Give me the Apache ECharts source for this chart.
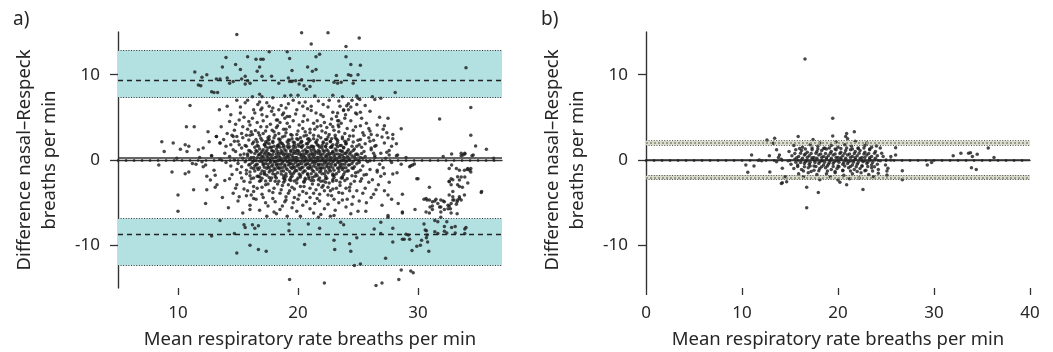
<!DOCTYPE html>
<html><head><meta charset="utf-8">
<script src="https://cdn.jsdelivr.net/npm/echarts@6/dist/echarts.min.js"></script>
<style>html,body{margin:0;padding:0;background:#fff}#c{width:1053px;height:352px}</style>
</head><body><div id="c"></div>
<script>
// ---------- axis ranges / tick labels ----------
const xRangeA = [5, 37];
const xRangeB = [0, 40];
const yRange = [-15, 15];
const xTickRangeA = [10, 30];   // labelled ticks 10, 20, 30
const xTickRangeB = [0, 40];    // labelled ticks 0..40
const yTickRange = [-10, 10];   // labelled ticks -10, 0, 10
const tickStep = 10;
const panelLabels = ['a)', 'b)'];
const xName = 'Mean respiratory rate breaths per min';
const yName = 'Difference nasal\u2013Respeck\nbreaths per min';

// ---------- limits of agreement: [lower CI, estimate, upper CI] ----------
const aUpperLoA = [7.3, 9.3, 12.85];
const aLowerLoA = [-12.35, -8.74, -6.86];
const aBias = 0.27;
const bUpperLoA = [1.73, 2.0, 2.27];
const bLowerLoA = [-2.3, -2.03, -1.76];
const bBias = 0;

// ---------- panel a points [mean, difference] ----------
const aUpper = [[14.9,14.7],[20.3,14.9],[22.5,14.9],[25.1,14.3],[21.1,13.6],[24.0,13.3],[17.6,12.7],[19.1,12.7],[14.0,12.0],[15.8,12.1],[16.5,11.8],[16.9,11.8],[17.1,11.8],[19.3,11.9],[21.5,12.1],[21.8,12.4],[24.0,12.1],[13.7,10.9],[14.8,11.2],[15.2,10.6],[16.8,10.9],[16.6,10.4],[20.8,10.9],[21.2,10.4],[21.5,10.6],[24.2,10.0],[25.2,11.1],[24.4,11.2],[25.0,10.0],[19.5,10.5],[17.0,9.8],[17.8,9.8],[19.2,9.6],[19.5,9.2],[19.8,9.3],[12.4,10.0],[11.4,10.3],[12.0,9.7],[13.2,9.5],[13.5,9.5],[14.1,9.6],[14.3,9.0],[14.6,9.2],[15.6,9.8],[15.8,9.3],[15.3,9.5],[16.0,9.0],[15.6,8.9],[18.4,9.0],[19.3,9.2],[20.3,9.4],[20.1,8.9],[20.5,8.7],[20.7,8.3],[21.0,8.6],[21.3,9.3],[23.2,9.9],[24.4,9.9],[23.0,9.1],[23.3,9.0],[23.6,9.1],[24.6,9.0],[11.7,8.8],[11.9,8.7],[12.8,8.0],[13.0,7.9],[13.3,7.9],[16.8,7.7],[17.0,7.4],[16.2,7.4],[17.9,7.3],[18.9,7.5],[19.4,7.6],[20.0,7.6],[21.4,7.5],[22.9,7.6],[23.7,7.4],[24.9,7.5],[25.15,7.1],[26.2,7.4],[26.4,7.1],[26.9,7.25],[28.1,7.9],[34.0,10.8]];
const aLower = [[10.0,-6.0],[13.5,-7.1],[12.8,-8.9],[14.7,-8.6],[14.9,-10.9],[15.5,-7.6],[15.6,-7.9],[16.0,-10.0],[16.2,-7.6],[16.4,-8.0],[16.7,-7.7],[16.7,-10.5],[17.35,-10.7],[19.25,-7.5],[19.25,-8.3],[20.55,-9.9],[20.86,-7.5],[21.8,-8.0],[21.7,-6.7],[23.0,-9.4],[23.06,-10.5],[23.56,-7.3],[23.8,-7.6],[24.3,-9.8],[24.4,-10.7],[24.9,-9.1],[24.7,-12.35],[25.2,-12.2],[26.35,-8.1],[26.9,-7.3],[26.9,-8.6],[27.3,-11.5],[27.5,-6.7],[27.9,-8.0],[27.9,-9.6],[28.7,-6.2],[19.3,-14.0],[22.2,-14.4],[26.5,-14.7],[27.0,-14.4],[28.6,-12.9],[29.4,-13.0],[29.6,-13.2],[28.4,-14.0],[28.7,-9.3],[28.85,-9.3],[29.0,-8.7],[29.2,-8.8],[29.3,-9.3],[29.5,-10.6],[29.9,-10.1],[30.2,-10.0],[30.3,-9.4],[30.5,-7.5],[30.6,-8.2],[30.7,-8.3],[30.75,-8.8],[30.9,-10.7],[30.8,-9.6],[30.7,-9.1],[31.4,-7.1],[31.65,-7.25],[31.4,-8.4],[31.65,-8.6],[31.9,-6.7],[32.2,-7.8],[32.2,-8.35],[32.4,-7.25],[32.4,-8.55],[32.8,-7.9],[33.1,-8.55],[33.1,-7.8],[33.9,-8.1],[33.9,-8.6],[34.0,-7.9]];
const aTail = [[34.4,6.15],[31.8,4.8],[34.4,2.9],[34.8,1.65],[35.7,1.25],[33.9,0.7],[33.75,0.6],[33.6,0.5],[34.5,0.5],[32.8,0.7],[32.1,0.4],[36.3,0.2],[27.6,0.6],[28.3,0.6],[27.5,4.9],[27.2,4.0],[28.6,3.65],[27.9,3.0],[27.9,2.5],[27.5,2.6],[28.2,1.9],[25.3,4.9],[25.2,4.0],[25.9,3.7],[26.1,3.0],[26.4,1.6],[26.1,1.4],[24.9,5.4],[24.8,5.5],[24.06,6.35],[24.2,5.9],[23.96,5.3],[23.8,5.9],[23.3,5.5],[23.4,4.6],[23.35,4.1],[23.4,3.9],[25.0,7.25],[24.5,7.0],[24.9,6.5],[32.6,-1.0],[33.2,-1.0],[33.45,-1.2],[33.87,-1.2],[34.1,-1.1],[34.4,-1.0],[29.3,-0.8],[29.4,-0.67],[29.7,-0.47],[30.0,-2.2],[27.9,-1.65],[27.2,-1.6],[26.6,-1.4],[25.5,-1.76],[25.0,-1.4],[32.76,-2.2],[33.3,-1.96],[33.6,-2.0],[35.3,-3.7],[29.9,-2.2],[30.95,-3.2],[29.55,-0.6],[28.25,-1.5],[28.7,-4.0],[28.35,-5.1],[30.5,-4.6],[30.75,-4.7],[31.2,-5.4],[31.4,-4.8],[31.9,-4.7],[32.1,-4.8],[32.6,-5.4],[32.9,-4.7],[33.3,-4.7],[33.2,-5.2],[33.45,-4.3],[32.7,-5.7],[32.76,-6.2],[33.3,-2.9],[33.45,-2.35],[33.7,-3.2],[33.9,-2.0],[34.15,-1.0],[34.3,-1.2],[34.4,-1.4],[32.6,-2.5],[32.8,-0.6],[33.6,0.8],[33.9,0.8],[34.6,0.6],[31.8,-5.5],[31.0,-5.5],[29.75,-5.8],[28.7,-6.1],[27.5,-6.5],[30.67,-4.5],[30.95,-4.7],[31.2,-4.9],[31.5,-4.6],[31.65,-5.1],[31.9,-5.5],[32.2,-4.9],[32.5,-5.3],[32.6,-4.1],[32.76,-5.1],[32.9,-4.3],[32.9,-3.7],[33.0,-4.7],[33.26,-4.9],[33.45,-4.5],[33.6,-4.7],[33.45,-3.1],[33.87,-4.1],[34.15,-2.7],[35.27,-3.8],[32.76,-2.9],[32.6,-2.55],[32.9,-2.3],[30.67,-6.1],[30.95,-6.2],[31.2,-5.8],[31.9,-6.1],[32.2,-5.8],[32.5,-5.7],[33.26,-6.3],[26.4,0.3],[26.8,-0.5],[27.3,0.2],[27.8,-0.3],[28.2,0.5],[26.6,-1.2],[27.1,-0.9],[28.6,-0.5],[29.0,0.3],[26.9,0.8],[27.6,1.1]];
const aLeft = [[8.4,-0.6],[8.65,2.15],[8.85,1.0],[9.6,2.0],[9.5,-1.4],[10.0,-4.1],[10.2,1.25],[10.6,1.8],[10.75,1.0],[10.9,1.6],[10.6,-1.6],[10.9,-1.4],[10.7,3.9],[11.35,3.9],[11.0,6.4],[11.3,-3.5],[11.2,-0.4],[11.5,-0.5],[11.7,1.2],[12.0,-0.2],[12.1,-0.8],[12.3,-0.6],[12.5,3.3],[12.6,2.15],[12.1,1.4],[13.0,-1.2],[13.5,2.0],[13.2,2.75],[13.45,5.9],[12.8,0.5],[11.8,0.3],[9.9,0.2],[12.4,-1.9]];
const aSpreadUp = [[14.1,6.3],[14.4,5.3],[14.8,4.2],[13.6,3.9],[14.1,3.1],[14.6,2.75],[13.8,2.4],[14.4,1.8],[14.9,7.0],[15.8,7.0],[15.6,6.7],[16.65,6.5],[17.4,6.7],[17.6,6.3],[16.9,5.9],[16.3,5.9],[16.2,4.9],[15.9,4.5],[15.1,4.7],[17.0,5.3],[17.4,5.1],[18.0,5.3],[18.3,4.7],[18.8,5.5],[19.1,5.1],[18.3,4.0],[17.85,3.5],[17.4,3.9],[16.9,3.9],[16.45,3.45],[15.8,3.6],[15.3,3.1],[14.9,2.75],[15.9,2.35],[16.9,2.55],[17.6,2.75],[18.4,3.1],[18.8,3.6],[19.1,4.3],[19.6,7.0],[20.1,6.7],[20.4,6.3],[19.9,5.9],[18.7,5.3],[19.3,5.1],[18.2,4.7],[20.4,4.5],[21.5,5.5],[22.1,5.1],[21.3,4.3],[21.9,4.0],[22.7,4.2],[23.3,4.6],[23.8,5.8],[24.4,6.2],[24.2,6.6],[23.4,6.9],[22.6,7.0],[21.7,6.9],[20.8,6.0],[21.0,3.6],[20.0,3.4],[19.4,3.0],[22.3,3.2],[23.0,3.5],[23.9,3.1],[24.6,3.5],[25.4,3.2],[25.9,2.6],[26.6,2.9],[27.1,3.6],[26.8,5.0],[26.0,5.7],[25.6,6.4],[22.9,5.6],[21.1,6.3],[19.0,6.1],[17.9,6.1],[15.2,5.5],
[14.3,4.5],[14.7,3.5],[15.0,2.2],[15.4,3.9],[15.5,5.0],[15.7,2.9],[16.0,4.1],[16.2,3.0],[16.4,5.5],[16.6,4.4],[16.7,3.2],[17.0,6.1],[17.1,4.6],[17.3,3.4],[17.5,2.3],[17.7,4.2],[17.8,5.7],[18.0,2.6],[18.2,3.8],[18.4,5.9],[18.5,4.4],[18.7,2.7],[18.9,4.9],[19.0,3.2],[19.2,6.6],[19.3,3.9],[19.5,2.5],[19.6,4.6],[19.8,5.4],[19.9,3.0],[20.1,4.1],[20.2,2.6],[20.4,3.7],[20.5,5.2],[20.7,2.9],[20.8,4.7],[21.0,3.2],[21.1,5.8],[21.3,2.5],[21.4,3.6],[21.6,4.6],[21.7,2.8],[21.9,5.3],[22.0,3.4],[22.2,4.4],[22.3,2.4],[22.5,6.2],[22.6,3.0],[22.8,4.8],[22.9,3.9],[23.1,2.6],[23.2,5.1],[23.4,3.3],[23.6,4.3],[23.7,2.7],[23.9,4.9],[24.1,3.7],[24.2,2.4],[24.4,4.6],[24.6,2.8],[24.8,3.9],[25.0,2.3],[25.2,5.6],[25.5,2.9],[25.7,4.3],[26.0,3.4],[26.3,2.3],[26.6,4.1],[27.0,2.7],[27.4,3.2],[16.8,6.8],[18.6,6.4],[20.6,6.8],[22.1,6.5],[23.5,6.3],[15.2,6.2],[14.5,2.9]];
const aSpreadMid = [[13.2,2.75],[13.5,2.0],[14.0,1.6],[14.7,2.2],[15.1,1.8],[15.4,2.6],[15.7,1.6],[16.0,2.9],[16.3,2.1],[16.6,1.7],[16.8,2.9],[17.0,2.3],[17.2,1.8],[17.5,2.6],[17.7,1.5],[17.9,2.2],[18.1,2.9],[18.3,1.7],[18.5,2.4],[18.7,1.9],[18.9,2.8],[19.1,1.6],[19.3,2.3],[19.5,2.9],[19.7,1.8],[19.9,2.5],[20.1,1.6],[20.3,2.2],[20.5,2.8],[20.7,1.9],[20.9,2.5],[21.1,1.6],[21.3,2.9],[21.5,2.1],[21.7,1.7],[21.9,2.6],[22.1,2.0],[22.3,1.6],[22.5,2.7],[22.7,2.2],[22.9,1.8],[23.1,2.9],[23.3,2.3],[23.5,1.7],[23.7,2.5],[24.0,1.9],[24.3,2.8],[24.6,2.1],[24.9,1.6],[25.2,2.4],[25.6,1.9],[26.0,2.2],[26.5,1.7],[27.2,2.0],[27.8,1.6],[18.0,3.3],[19.0,3.6],[20.6,3.3],[21.6,3.9],[22.4,3.8],[16.1,3.3],[17.1,3.1],[20.2,2.0],[21.0,2.3],[19.6,2.1],[18.6,2.0],[22.8,2.5],[23.9,2.2],[17.4,2.0],[16.5,2.4]];
const aCore = [[14.6,1.2],[15.3,1.4],[15.9,1.1],[16.4,1.5],[16.8,1.3],[17.1,1.2],[17.5,1.4],[17.8,1.1],[18.2,1.3],[18.5,1.5],[18.9,1.2],[19.2,1.4],[19.6,1.3],[19.9,1.1],[20.3,1.5],[20.6,1.2],[21.0,1.4],[21.3,1.3],[21.7,1.1],[22.0,1.4],[22.4,1.2],[22.7,1.5],[23.1,1.3],[23.5,1.1],[23.8,1.4],[24.2,1.2],[24.7,1.3],[25.3,1.5],[26.1,1.2],
[13.9,0.8],[14.8,1.0],[15.5,0.7],[16.1,0.9],[16.6,1.0],[16.9,0.8],[17.3,0.9],[17.6,0.7],[18.0,1.0],[18.4,0.8],[18.7,0.9],[19.1,0.7],[19.4,1.0],[19.8,0.8],[20.1,0.9],[20.5,0.7],[20.8,1.0],[21.2,0.8],[21.5,0.9],[21.9,0.7],[22.2,1.0],[22.6,0.8],[22.9,0.9],[23.3,0.7],[23.7,1.0],[24.0,0.8],[24.4,0.9],[24.9,0.7],[25.5,1.0],[26.3,0.8],[27.4,0.9],
[12.8,0.5],[14.3,0.4],[15.2,0.6],[15.8,0.5],[16.3,0.3],[16.7,0.6],[17.0,0.4],[17.4,0.5],[17.7,0.6],[18.1,0.3],[18.4,0.5],[18.8,0.6],[19.1,0.4],[19.5,0.5],[19.8,0.3],[20.2,0.6],[20.5,0.4],[20.9,0.5],[21.2,0.6],[21.6,0.3],[21.9,0.5],[22.3,0.4],[22.6,0.6],[23.0,0.5],[23.4,0.3],[23.7,0.6],[24.1,0.4],[24.5,0.5],[25.0,0.6],[25.6,0.4],[26.4,0.5],
[13.5,0.1],[14.7,0.0],[15.4,0.2],[16.0,0.1],[16.5,-0.1],[16.9,0.2],[17.2,0.0],[17.6,0.1],[17.9,0.2],[18.3,-0.1],[18.6,0.1],[19.0,0.2],[19.3,0.0],[19.7,0.1],[20.0,-0.1],[20.4,0.2],[20.7,0.0],[21.1,0.1],[21.4,0.2],[21.8,-0.1],[22.1,0.1],[22.5,0.0],[22.8,0.2],[23.2,0.1],[23.6,-0.1],[23.9,0.2],[24.3,0.0],[24.8,0.1],[25.4,0.2],[26.0,-0.1],
[14.0,-0.3],[15.0,-0.4],[15.6,-0.2],[16.2,-0.3],[16.6,-0.5],[17.0,-0.2],[17.3,-0.4],[17.7,-0.3],[18.0,-0.2],[18.4,-0.5],[18.7,-0.3],[19.1,-0.2],[19.4,-0.4],[19.8,-0.3],[20.1,-0.5],[20.5,-0.2],[20.8,-0.4],[21.2,-0.3],[21.5,-0.2],[21.9,-0.5],[22.2,-0.3],[22.6,-0.4],[22.9,-0.2],[23.3,-0.3],[23.7,-0.5],[24.0,-0.2],[24.5,-0.4],[25.1,-0.3],[25.8,-0.2],
[14.4,-0.7],[15.3,-0.8],[15.9,-0.6],[16.4,-0.7],[16.8,-0.9],[17.1,-0.6],[17.5,-0.8],[17.8,-0.7],[18.2,-0.6],[18.5,-0.9],[18.9,-0.7],[19.2,-0.6],[19.6,-0.8],[19.9,-0.7],[20.3,-0.9],[20.6,-0.6],[21.0,-0.8],[21.3,-0.7],[21.7,-0.6],[22.0,-0.9],[22.4,-0.7],[22.7,-0.8],[23.1,-0.6],[23.5,-0.7],[23.8,-0.9],[24.2,-0.6],[24.7,-0.8],[25.4,-0.7],
[14.9,-1.1],[15.7,-1.2],[16.3,-1.0],[16.7,-1.1],[17.0,-1.3],[17.4,-1.0],[17.7,-1.2],[18.1,-1.1],[18.4,-1.0],[18.8,-1.3],[19.1,-1.1],[19.5,-1.0],[19.8,-1.2],[20.2,-1.1],[20.5,-1.3],[20.9,-1.0],[21.2,-1.2],[21.6,-1.1],[21.9,-1.0],[22.3,-1.3],[22.6,-1.1],[23.0,-1.2],[23.4,-1.0],[23.7,-1.1],[24.1,-1.3],[24.6,-1.0],[25.2,-1.2],[26.0,-1.1],
[15.2,-1.5],[16.0,-1.4],[16.9,-1.6],[17.6,-1.4],[18.3,-1.5],[19.0,-1.6],[19.7,-1.4],[20.4,-1.5],[21.1,-1.6],[21.8,-1.4],[22.5,-1.5],[23.2,-1.6],[23.9,-1.4],[24.8,-1.5]];
const aCoreFill = [[15.6,1.7],[16.2,1.9],[16.7,1.6],[17.2,1.8],[17.6,1.9],[18.0,1.6],[18.4,1.8],[18.8,1.7],[19.2,1.9],[19.6,1.6],[20.0,1.8],[20.4,1.7],[20.8,1.9],[21.2,1.6],[21.6,1.8],[22.0,1.7],[22.4,1.9],[22.8,1.6],[23.2,1.8],[23.6,1.7],[24.0,1.9],[24.5,1.6],[25.1,1.8],
[16.0,1.05],[16.5,1.1],[17.0,1.0],[17.4,1.1],[17.9,1.05],[18.3,1.0],[18.6,1.1],[19.0,1.05],[19.4,1.1],[19.7,1.0],[20.0,1.1],[20.4,1.05],[20.7,1.0],[21.1,1.1],[21.4,1.05],[21.8,1.0],[22.1,1.1],[22.5,1.05],[22.9,1.0],[23.2,1.1],[23.6,1.05],[24.1,1.0],[24.6,1.1],
[15.8,0.7],[16.4,0.75],[16.8,0.65],[17.2,0.7],[17.5,0.75],[17.9,0.65],[18.2,0.7],[18.6,0.75],[18.9,0.7],[19.3,0.65],[19.6,0.75],[20.0,0.7],[20.3,0.65],[20.7,0.75],[21.0,0.7],[21.4,0.65],[21.7,0.75],[22.1,0.7],[22.4,0.65],[22.8,0.75],[23.1,0.7],[23.5,0.65],[23.9,0.75],[24.3,0.7],[24.8,0.65],[25.3,0.75],
[16.1,0.3],[16.6,0.25],[17.1,0.35],[17.5,0.3],[17.8,0.25],[18.2,0.35],[18.5,0.3],[18.9,0.25],[19.2,0.35],[19.6,0.3],[19.9,0.25],[20.3,0.35],[20.6,0.3],[21.0,0.25],[21.3,0.35],[21.7,0.3],[22.0,0.25],[22.4,0.35],[22.7,0.3],[23.1,0.25],[23.5,0.35],[23.8,0.3],[24.2,0.25],[24.7,0.35],[25.2,0.3],
[16.3,-0.1],[16.8,-0.15],[17.4,-0.05],[17.7,-0.1],[18.1,-0.15],[18.5,-0.05],[18.8,-0.1],[19.2,-0.15],[19.5,-0.05],[19.9,-0.1],[20.2,-0.15],[20.6,-0.05],[20.9,-0.1],[21.3,-0.15],[21.6,-0.05],[22.0,-0.1],[22.3,-0.15],[22.7,-0.05],[23.0,-0.1],[23.4,-0.15],[23.8,-0.05],[24.1,-0.1],[24.6,-0.15],[25.1,-0.05],
[16.0,-0.5],[16.5,-0.55],[17.1,-0.45],[17.5,-0.5],[17.9,-0.55],[18.2,-0.45],[18.6,-0.5],[18.9,-0.55],[19.3,-0.45],[19.6,-0.5],[20.0,-0.55],[20.3,-0.45],[20.7,-0.5],[21.0,-0.55],[21.4,-0.45],[21.7,-0.5],[22.1,-0.55],[22.4,-0.45],[22.8,-0.5],[23.1,-0.55],[23.5,-0.45],[23.9,-0.5],[24.3,-0.55],[24.9,-0.45],
[16.1,-0.9],[16.6,-0.95],[17.2,-0.85],[17.6,-0.9],[18.0,-0.95],[18.3,-0.85],[18.7,-0.9],[19.0,-0.95],[19.4,-0.85],[19.7,-0.9],[20.1,-0.95],[20.4,-0.85],[20.8,-0.9],[21.1,-0.95],[21.5,-0.85],[21.8,-0.9],[22.2,-0.95],[22.5,-0.85],[22.9,-0.9],[23.3,-0.95],[23.6,-0.85],[24.0,-0.9],[24.5,-0.95],
[16.4,-1.3],[17.2,-1.35],[17.9,-1.25],[18.6,-1.3],[19.3,-1.35],[19.9,-1.25],[20.6,-1.3],[21.3,-1.35],[21.9,-1.25],[22.7,-1.3],[23.4,-1.35],[24.2,-1.25],
[16.0,-1.85],[16.7,-1.9],[17.4,-1.8],[18.1,-1.95],[18.8,-1.85],[19.5,-1.9],[20.2,-1.8],[20.9,-1.95],[21.6,-1.85],[22.3,-1.9],[23.0,-1.8],[23.7,-1.95],[24.5,-1.85]];
const aCoreEdge = [[17.3,1.55],[17.8,1.5],[18.3,1.55],[18.8,1.5],[19.3,1.55],[19.8,1.5],[20.3,1.55],[20.8,1.5],[21.3,1.55],[21.8,1.5],[22.3,1.55],[22.8,1.5],[23.3,1.55],[23.8,1.5],
[16.6,2.1],[17.3,2.15],[17.9,2.05],[18.5,2.1],[19.1,2.15],[19.7,2.05],[20.3,2.1],[20.9,2.15],[21.5,2.05],[22.1,2.1],[22.7,2.15],[23.3,2.05],[24.0,2.1],
[17.6,2.4],[18.4,2.45],[19.2,2.35],[20.0,2.4],[20.8,2.45],[21.6,2.35],[22.4,2.4],[23.2,2.45],
[16.3,-2.1],[17.0,-2.15],[17.6,-2.05],[18.2,-2.1],[18.8,-2.15],[19.4,-2.05],[20.0,-2.1],[20.6,-2.15],[21.2,-2.05],[21.8,-2.1],[22.4,-2.15],[23.0,-2.05],[23.7,-2.1],
[17.3,-2.45],[18.1,-2.5],[18.9,-2.4],[19.7,-2.45],[20.5,-2.5],[21.3,-2.4],[22.1,-2.45],[22.9,-2.5],
[17.2,-1.65],[17.9,-1.6],[18.6,-1.65],[19.4,-1.6],[20.1,-1.65],[20.8,-1.6],[21.5,-1.65],[22.2,-1.6],[22.9,-1.65]];
const aSpreadLow = [[13.1,-1.8],[13.9,-2.4],[14.5,-1.7],[14.9,-2.9],[15.3,-2.1],[15.7,-1.6],[16.0,-2.6],[16.3,-3.1],[16.6,-1.9],[16.9,-2.4],[17.2,-1.6],[17.5,-2.8],[17.8,-2.1],[18.1,-1.7],[18.4,-2.5],[18.7,-3.0],[19.0,-1.9],[19.3,-2.3],[19.6,-1.6],[19.9,-2.7],[20.2,-2.0],[20.5,-3.1],[20.8,-1.7],[21.1,-2.4],[21.4,-1.9],[21.7,-2.9],[22.0,-1.6],[22.3,-2.2],[22.6,-2.7],[22.9,-1.8],[23.2,-2.4],[23.5,-3.0],[23.8,-1.7],[24.1,-2.2],[24.4,-2.8],[24.8,-1.9],[25.2,-2.5],[25.7,-1.7],[26.2,-2.3],[26.9,-1.9],[27.6,-2.6],[17.0,-3.2],[18.0,-3.3],[19.5,-3.2],[21.0,-3.3],[22.5,-3.2],[24.0,-3.3],[15.5,-3.4],[16.8,-2.0],[18.9,-2.2],[20.6,-2.3],[21.9,-2.5],[23.6,-2.1],[19.2,-2.9],[22.1,-3.0],
[12.4,-3.5],[13.1,-3.2],[13.25,-2.9],[12.7,-2.35],[12.3,-5.1],[13.7,-4.4],[14.2,-5.6],[14.6,-3.9],[15.0,-4.8],[15.4,-6.2],[15.7,-4.2],[16.0,-5.3],[16.3,-3.7],[16.5,-4.6],[16.8,-5.9],[17.0,-4.0],[17.3,-5.0],[17.6,-3.6],[17.9,-4.5],[18.2,-6.3],[18.5,-3.9],[18.7,-5.4],[19.0,-4.3],[19.3,-3.6],[19.6,-5.0],[19.9,-6.0],[20.1,-4.1],[20.4,-3.7],[20.7,-4.9],[21.0,-5.7],[21.3,-3.9],[21.6,-4.5],[21.9,-6.4],[22.2,-3.6],[22.5,-5.2],[22.8,-4.2],[23.1,-5.9],[23.4,-3.8],[23.7,-4.7],[24.0,-5.5],[24.3,-3.6],[24.6,-4.3],[25.0,-6.0],[25.4,-3.9],[25.7,-5.0],[26.1,-4.4],[26.5,-3.5],[27.0,-5.3],[27.5,-4.1],[25.65,-6.0],[17.4,-6.6],[20.2,-6.6],[23.0,-6.5],[18.9,-4.9],[21.8,-4.0],[16.1,-4.1],[19.7,-4.4],[22.9,-3.4],
[14.3,-2.2],[14.8,-3.3],[15.1,-4.3],[15.5,-2.5],[15.8,-3.6],[16.1,-2.2],[16.3,-4.5],[16.6,-3.3],[16.8,-2.5],[17.1,-4.4],[17.3,-2.9],[17.5,-5.4],[17.7,-2.4],[17.9,-3.8],[18.1,-4.9],[18.3,-2.8],[18.5,-5.8],[18.6,-3.5],[18.8,-2.6],[19.0,-4.7],[19.2,-3.9],[19.4,-2.4],[19.5,-5.6],[19.7,-3.4],[19.9,-2.3],[20.0,-4.6],[20.2,-3.1],[20.4,-5.3],[20.5,-2.6],[20.7,-3.9],[20.9,-2.2],[21.0,-4.4],[21.2,-2.8],[21.4,-5.1],[21.5,-3.5],[21.7,-2.3],[21.8,-4.8],[22.0,-3.2],[22.2,-5.7],[22.3,-2.6],[22.5,-4.1],[22.7,-3.6],[22.9,-2.3],[23.0,-4.6],[23.2,-3.3],[23.4,-5.0],[23.5,-2.6],[23.7,-3.9],[23.9,-2.4],[24.1,-4.6],[24.3,-3.2],[24.5,-5.2],[24.7,-2.5],[24.9,-3.6],[25.1,-4.8],[25.3,-2.2],[25.6,-3.3],[25.9,-2.6],[26.3,-4.0],[26.7,-2.9],[27.2,-3.6],[27.8,-4.6],[16.0,-5.8],[18.0,-6.1],[21.3,-6.2],[24.4,-6.3],[19.1,-6.6],[22.7,-6.6]];

// ---------- panel b points ----------
const bOutliers = [[16.56,11.85],[19.45,4.9],[16.74,-5.6],[17.95,-3.8],[16.74,-3.2],[22.6,-3.45],[20.9,-2.9],[21.7,3.3],[20.9,3.1],[20.8,2.75],[19.45,2.8],[21.0,2.5],[15.85,2.75],[13.4,2.55],[12.6,2.35],[17.4,2.4]];
const bSides = [[32.0,0.5],[32.8,0.8],[33.6,0.8],[33.8,0.86],[34.0,0.4],[34.5,0.67],[35.65,1.4],[36.25,0.3],[33.9,-0.9],[34.4,-1.1],[29.3,-0.6],[29.75,-0.3],[26.7,-1.25],[26.7,-2.3],[26.0,1.45],[10.4,-0.6],[10.6,-1.45],[11.0,0.6],[11.25,-0.7],[11.8,0],[12.05,-0.1],[12.9,-1.4],[12.85,0.5],[13.26,1.95],[13.6,1.2],[13.9,0.6],[14.1,0.08],[14.2,-0.98],[14.5,-1.96],[14.2,-2.67],[14.65,-2.55],[13.6,-0.2],[13.8,0.3],[14.1,-2.75],[25.2,-0.98],[25.1,-1.3],[24.95,-0.6],[25.5,0],[25.5,0.4],[26.0,0.6],[25.1,-1.76],[25.0,0],[24.7,0.4],[24.55,0.8],[24.4,1.4],[24.0,1.65],[23.7,-1.96],[24.2,-1.56],[20.0,-2.35]];
const bCore = [[15.4,1.7],[16.3,1.5],[17.1,1.8],[17.9,1.6],[18.6,1.4],[19.3,1.7],[20.0,1.5],[20.7,1.8],[21.4,1.6],[22.1,1.4],[22.8,1.7],[23.5,1.5],[19.8,2.1],[18.1,2.0],[21.8,2.2],[23.0,2.0],
[14.9,1.0],[15.6,1.2],[16.2,1.1],[16.8,0.9],[17.3,1.2],[17.8,1.0],[18.3,1.1],[18.8,1.3],[19.3,1.0],[19.8,1.2],[20.3,0.9],[20.8,1.1],[21.3,1.2],[21.8,1.0],[22.3,1.1],[22.8,0.9],[23.3,1.2],[23.9,1.0],
[15.2,0.5],[15.9,0.4],[16.5,0.6],[17.0,0.5],[17.5,0.3],[18.0,0.6],[18.5,0.4],[19.0,0.5],[19.5,0.6],[20.0,0.3],[20.5,0.5],[21.0,0.6],[21.5,0.4],[22.0,0.5],[22.5,0.3],[23.0,0.6],[23.5,0.4],[24.1,0.5],
[14.8,-0.1],[15.5,0.1],[16.2,0.0],[16.8,-0.1],[17.3,0.1],[17.8,0.0],[18.3,-0.1],[18.8,0.1],[19.3,0.0],[19.8,-0.1],[20.3,0.1],[20.8,0.0],[21.3,-0.1],[21.8,0.1],[22.3,0.0],[22.8,-0.1],[23.3,0.1],[23.8,0.0],[24.4,-0.1],
[15.1,-0.5],[15.8,-0.6],[16.5,-0.4],[17.0,-0.5],[17.5,-0.7],[18.0,-0.4],[18.5,-0.6],[19.0,-0.5],[19.5,-0.4],[20.0,-0.7],[20.5,-0.5],[21.0,-0.4],[21.5,-0.6],[22.0,-0.5],[22.5,-0.7],[23.0,-0.4],[23.5,-0.6],[24.1,-0.5],
[15.4,-1.0],[16.2,-1.1],[16.9,-0.9],[17.5,-1.2],[18.1,-1.0],[18.7,-0.9],[19.3,-1.1],[19.9,-1.0],[20.5,-1.2],[21.1,-0.9],[21.7,-1.1],[22.3,-1.0],[22.9,-1.2],[23.5,-0.9],[24.2,-1.1],
[15.9,-1.6],[16.9,-1.5],[17.8,-1.7],[18.8,-1.6],[19.7,-1.5],[20.6,-1.8],[21.5,-1.6],[22.4,-1.5],[23.2,-1.7],[19.2,-2.0],[21.2,-2.2],[18.1,-2.3],[22.2,-2.1],[16.4,-2.0],[20.2,-2.6]];
const bCoreFill = [[16.0,1.35],[16.6,1.3],[17.3,1.4],[17.9,1.3],[18.5,1.35],[19.1,1.4],[19.7,1.3],[20.3,1.35],[20.9,1.4],[21.5,1.3],[22.1,1.35],[22.7,1.4],[23.3,1.3],
[15.5,0.75],[16.1,0.8],[16.6,0.7],[17.2,0.75],[17.7,0.8],[18.2,0.7],[18.7,0.75],[19.2,0.8],[19.7,0.7],[20.2,0.75],[20.7,0.8],[21.2,0.7],[21.7,0.75],[22.2,0.8],[22.7,0.7],[23.2,0.75],[23.8,0.8],
[15.7,0.25],[16.3,0.2],[16.8,0.3],[17.3,0.25],[17.8,0.2],[18.3,0.3],[18.8,0.25],[19.3,0.2],[19.8,0.3],[20.3,0.25],[20.8,0.2],[21.3,0.3],[21.8,0.25],[22.3,0.2],[22.8,0.3],[23.3,0.25],[23.9,0.2],
[15.6,-0.25],[16.1,-0.3],[16.6,-0.2],[17.1,-0.25],[17.6,-0.3],[18.1,-0.2],[18.6,-0.25],[19.1,-0.3],[19.6,-0.2],[20.1,-0.25],[20.6,-0.3],[21.1,-0.2],[21.6,-0.25],[22.1,-0.3],[22.6,-0.2],[23.1,-0.25],[23.6,-0.3],
[15.8,-0.75],[16.5,-0.8],[17.1,-0.7],[17.7,-0.75],[18.3,-0.8],[18.9,-0.7],[19.5,-0.75],[20.1,-0.8],[20.7,-0.7],[21.3,-0.75],[21.9,-0.8],[22.5,-0.7],[23.1,-0.75],[23.8,-0.8],
[16.4,-1.3],[17.2,-1.35],[18.0,-1.25],[18.9,-1.3],[19.7,-1.35],[20.5,-1.25],[21.3,-1.3],[22.0,-1.35],[22.8,-1.25],[23.6,-1.3]];

const FONT = 'Noto Sans';
const INK = '#1c1a1b';
const AX = '#333333';
const TXT = '#262626';
const nameStyle = { fontFamily: FONT, fontSize: 18.5, color: TXT };
const labelStyle = { fontFamily: FONT, fontSize: 17, color: TXT };

// main frames: axis lines + names; thin tick strips: ticks drawn as split lines + labels
const frame = { top: 32, height: 256 };
const gA = { left: 118, width: 384 };
const gB = { left: 646, width: 384 };
const tickLenY = 8, tickLenX = 7;
const pxPerA = gA.width / (xRangeA[1] - xRangeA[0]);
const pxPerY = frame.height / (yRange[1] - yRange[0]);
const tickTop = frame.top + (yRange[1] - yTickRange[1]) * pxPerY;
const tickH = (yTickRange[1] - yTickRange[0]) * pxPerY;
const tickLeftA = gA.left + (xTickRangeA[0] - xRangeA[0]) * pxPerA;
const tickWA = (xTickRangeA[1] - xTickRangeA[0]) * pxPerA;
const tickLine = { show: true, lineStyle: { color: AX, width: 1.3, type: 'solid' } };

function mainX(gi, r) {
  return {
    type: 'value', gridIndex: gi, min: r[0], max: r[1],
    name: xName, nameLocation: 'middle', nameGap: 42, nameTextStyle: nameStyle,
    axisLine: { show: true, lineStyle: { color: AX, width: 1.4 } },
    axisTick: { show: false }, axisLabel: { show: false }, splitLine: { show: false }
  };
}
function mainY(gi) {
  return {
    type: 'value', gridIndex: gi, min: yRange[0], max: yRange[1],
    name: yName, nameLocation: 'middle', nameGap: 56,
    nameTextStyle: Object.assign({ lineHeight: 25 }, nameStyle),
    axisLine: { show: true, lineStyle: { color: AX, width: 1.4 } },
    axisTick: { show: false }, axisLabel: { show: false }, splitLine: { show: false }
  };
}
function tickX(gi, r) {
  return {
    type: 'value', gridIndex: gi, min: r[0], max: r[1], interval: tickStep,
    axisLine: { show: false }, axisTick: { show: false },
    axisLabel: Object.assign({ margin: 10 }, labelStyle),
    splitLine: tickLine
  };
}
function tickY(gi) {
  return {
    type: 'value', gridIndex: gi, min: yTickRange[0], max: yTickRange[1], interval: tickStep,
    axisLine: { show: false }, axisTick: { show: false },
    axisLabel: Object.assign({ margin: 10 }, labelStyle),
    splitLine: tickLine
  };
}
function hidden(gi) { return { type: 'value', gridIndex: gi, min: 0, max: 1, show: false }; }
function grid(left, top, width, height) {
  return { left: left, top: top, width: width, height: height, containLabel: false, outerBoundsMode: 'none' };
}
function hLine(y, type, width, color, cap) {
  return { yAxis: y, lineStyle: { type: type, width: width, color: color, cap: cap || 'butt' } };
}
function refSeries(xi, upper, lower, bias, fill, edge, mid) {
  return {
    type: 'scatter', xAxisIndex: xi, yAxisIndex: xi, data: [], z: 1, silent: true,
    markArea: { silent: true, itemStyle: { color: fill },
      data: [[{ yAxis: upper[0] }, { yAxis: upper[2] }], [{ yAxis: lower[0] }, { yAxis: lower[2] }]] },
    markLine: { silent: true, symbol: 'none', label: { show: false },
      data: [
        hLine(upper[0], [1, 1.6], 1, edge), hLine(upper[2], [1, 1.6], 1, edge),
        hLine(lower[0], [1, 1.6], 1, edge), hLine(lower[2], [1, 1.6], 1, edge),
        hLine(upper[1], mid.type, mid.width, mid.color), hLine(lower[1], mid.type, mid.width, mid.color),
        hLine(bias, 'solid', 1.5, '#333'),
        hLine(0, [0.1, 7.9], 2.6, '#222', 'round')
      ] }
  };
}

const chart = echarts.init(document.getElementById('c'), null, { renderer: 'canvas' });
chart.setOption({
  animation: false,
  backgroundColor: '#fff',
  grid: [
    grid(gA.left, frame.top, gA.width, frame.height),               // 0 panel a
    grid(gB.left, frame.top, gB.width, frame.height),               // 1 panel b
    grid(tickLeftA, frame.top + frame.height, tickWA, tickLenX),    // 2 a x ticks
    grid(gA.left - tickLenY, tickTop, tickLenY, tickH),             // 3 a y ticks
    grid(gB.left, frame.top + frame.height, gB.width, tickLenX),    // 4 b x ticks
    grid(gB.left - tickLenY, tickTop, tickLenY, tickH)              // 5 b y ticks
  ],
  xAxis: [mainX(0, xRangeA), mainX(1, xRangeB), tickX(2, xTickRangeA), hidden(3), tickX(4, xTickRangeB), hidden(5)],
  yAxis: [mainY(0), mainY(1), hidden(2), tickY(3), hidden(4), tickY(5)],
  graphic: [
    { type: 'text', left: 13, top: 10, style: { text: panelLabels[0], font: '19px "Noto Sans"', fill: TXT } },
    { type: 'text', left: 541, top: 10, style: { text: panelLabels[1], font: '19px "Noto Sans"', fill: TXT } }
  ],
  series: [
    refSeries(0, aUpperLoA, aLowerLoA, aBias, '#b3e0e0', '#333', { type: [5, 4], width: 1.3, color: '#222' }),
    { type: 'scatter', xAxisIndex: 0, yAxisIndex: 0, z: 3, symbolSize: 3.5, itemStyle: { color: INK },
      data: [].concat(aUpper, aLower, aTail, aLeft, aSpreadUp, aSpreadMid, aCore, aCoreFill, aCoreEdge, aSpreadLow) },
    refSeries(1, bUpperLoA, bLowerLoA, bBias, '#d9dbcc', '#555', { type: [2, 2], width: 2, color: '#9a9c8a' }),
    { type: 'scatter', xAxisIndex: 1, yAxisIndex: 1, z: 3, symbolSize: 3.5, itemStyle: { color: INK },
      data: [].concat(bOutliers, bSides, bCore, bCoreFill) }
  ]
});
</script>
</body></html>
